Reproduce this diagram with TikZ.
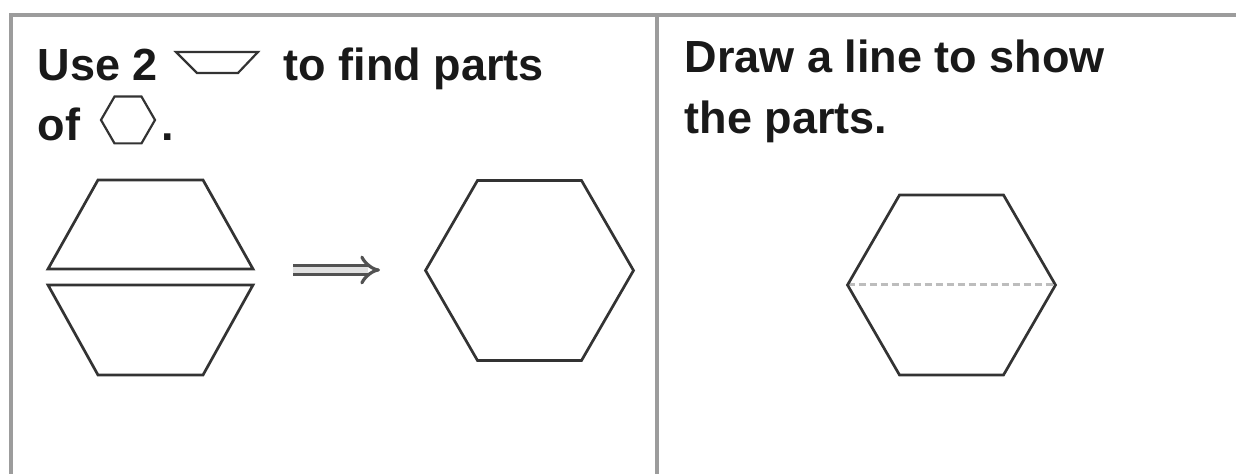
\documentclass[tikz,border=0pt]{standalone}
\usepackage{fontspec}
\setmainfont{Liberation Sans}
\usetikzlibrary{calc,arrows.meta}
\definecolor{framegray}{HTML}{9C9C9C}
\definecolor{ink}{HTML}{333333}
\definecolor{guide}{HTML}{BDBDBD}

\tikzset{
  frameline/.style={draw=framegray,line width=0.045cm},
  piece/.style={draw=ink,line width=0.027cm,line join=miter},
  icon/.style={draw=ink,line width=0.022cm},
  words/.style={anchor=base west,inner sep=0,font=\fontsize{12.8}{15}\selectfont\bfseries,text=black!90},
  partline/.style={draw=guide,line width=0.03cm,dash pattern=on 0.07cm off 0.04cm},
  doublearrow/.style={draw=ink!85,line width=0.032cm,double=black!12,double distance=0.065cm,-{Implies[length=0.17cm,width=0.3cm]}}
}

\begin{document}
\begin{tikzpicture}[x=0.01cm,y=-0.01cm]
  \useasboundingbox (0,0) rectangle (1236,474);
  % panels
  \draw[frameline] (1236,15) -- (11,15) -- (11,474);
  \draw[frameline] (657,15) -- (657,474);

  % left panel text
  \node[words] (use) at (37,81) {Use 2};
  \draw[icon] (176,52) -- (258,52) -- (238,73) -- (197,73) -- cycle;
  \node[words] (find) at (283,81) {to find parts};
  \node[words] (of) at (37,141) {of};
  \coordinate (hexI) at (128,120);
  \draw[icon] ($(hexI)+(-27,0)$) -- ++(13.5,-23.4) -- ++(27,0) -- ++(13.5,23.4) -- ++(-13.5,23.4) -- ++(-27,0) -- cycle;
  \node[words] (dot) at (161,141) {.};

  % two halves
  \draw[piece] (98,180) -- (203,180) -- (253,269) -- (48,269) -- cycle;
  \draw[piece] (48,285) -- (253,285) -- (203,375) -- (98,375) -- cycle;

  \coordinate (arrS) at (293,270);
  \coordinate (arrE) at (380,270);
  \draw[doublearrow] (arrS) -- (arrE);

  \coordinate (hexA) at (529.5,270.5);
  \draw[piece] ($(hexA)+(-104,0)$) -- ++(52,-90) -- ++(104,0) -- ++(52,90) -- ++(-52,90) -- ++(-104,0) -- cycle;

  % right panel
  \node[words] (draw) at (684,73) {Draw a line to show};
  \node[words] (parts) at (684,134) {the parts.};
  \coordinate (hexB) at (951.5,285);
  \draw[partline] ($(hexB)+(-104,0)$) -- ($(hexB)+(104,0)$);
  \draw[piece] ($(hexB)+(-104,0)$) -- ++(52,-90) -- ++(104,0) -- ++(52,90) -- ++(-52,90) -- ++(-104,0) -- cycle;
\end{tikzpicture}
\end{document}
